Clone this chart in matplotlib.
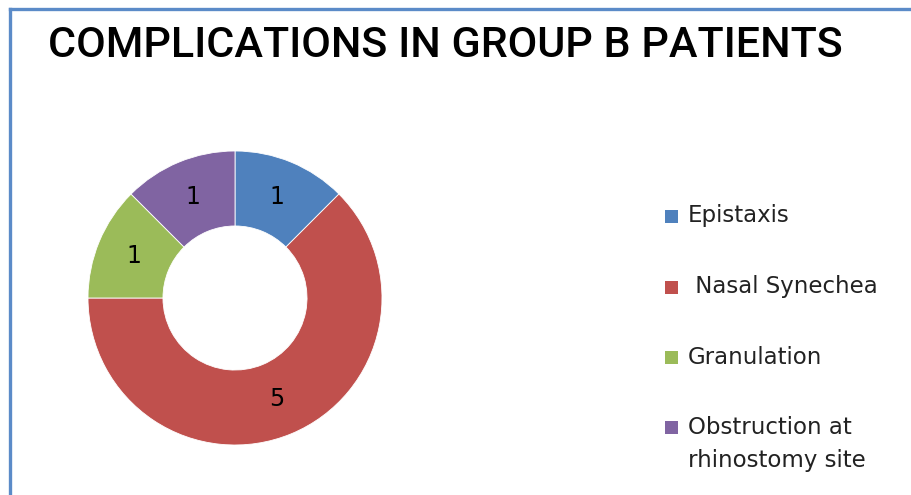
import matplotlib.pyplot as plt
from matplotlib.lines import Line2D
from matplotlib.patches import Rectangle

categories = ["Epistaxis", " Nasal Synechea", "Granulation", "Obstruction at\nrhinostomy site"]
counts = [1, 5, 1, 1]
colors = ["#4F81BD", "#C0504D", "#9BBB59", "#8064A2"]
title = "COMPLICATIONS IN GROUP B PATIENTS"

W, H = 912, 495
fig = plt.figure(figsize=(W / 100, H / 100), dpi=100)

# frame (only top and left edge visible in the reference)
fig.add_artist(Line2D([10 / W, 1], [1 - 8.5 / H, 1 - 8.5 / H], color="#5B8BC8", lw=2.4))
fig.add_artist(Line2D([10 / W, 10 / W], [1 - 8.5 / H, 0], color="#5B8BC8", lw=2.4))

fig.text(48 / W, 1 - 57 / H, title, fontsize=31, weight="medium",
         family="Roboto", va="baseline", ha="left", color="black")

# donut
cx, cy, r = 235, 298, 147
ax = fig.add_axes([(cx - r) / W, (H - cy - r) / H, 2 * r / W, 2 * r / H])
total = sum(counts)
wedges, _, autotexts = ax.pie(
    counts, colors=colors, startangle=90, counterclock=False, radius=1,
    wedgeprops=dict(width=0.51, edgecolor="white", linewidth=0.6),
    autopct=lambda p: "%d" % round(p * total / 100), pctdistance=0.745,
    textprops=dict(fontsize=17, color="black"))
ax.set_aspect("equal")
ax.set_xlim(-1, 1)
ax.set_ylim(-1, 1)
ax.axis("off")

# legend
ys = [216, 287, 357, 427]
for lab, col, y in zip(categories, colors, ys):
    fig.add_artist(Rectangle((665 / W, 1 - (y + 6.5) / H), 13 / W, 13 / H,
                             transform=fig.transFigure, color=col, lw=0))
    multi = "\n" in lab
    fig.text(688 / W, 1 - (y - 11 if multi else y) / H, lab, fontsize=16.5,
             va="top" if multi else "center", ha="left", color="#222222", linespacing=1.55)

fig.savefig("out.png", dpi=100)
